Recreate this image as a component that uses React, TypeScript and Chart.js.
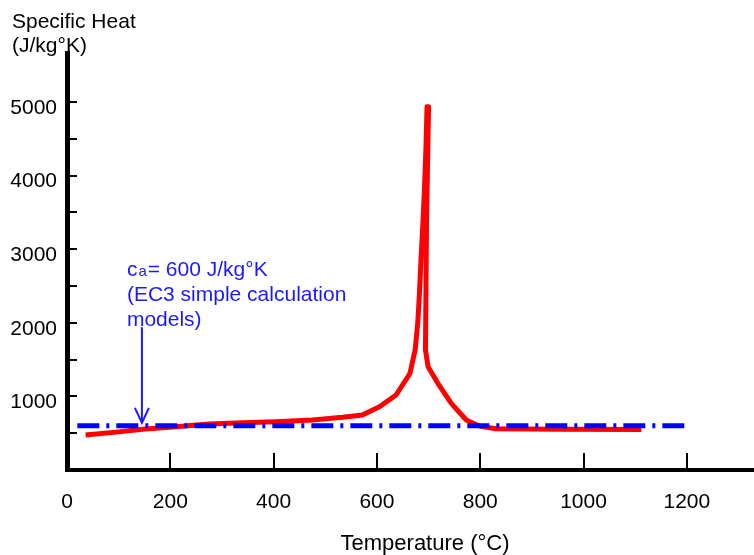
import React, { useEffect, useRef } from "react";
import { Chart, registerables } from "chart.js";

Chart.register(...registerables);

const temperatureC = [
  36, 100, 146, 211, 275, 340, 404, 475, 534, 572, 605, 637, 656, 664, 674, 679, 682, 685, 689, 692, 695, 697,
  700, 696, 694, 699, 718, 744, 773, 798, 830, 950, 1112,
];
const specificHeat = [
  476, 518, 553, 588, 625, 643, 656, 679, 716, 747, 860, 1019, 1223, 1314, 1630, 1993, 2355, 2808, 3352, 3804,
  4393, 4936, 4936, 3352, 1630, 1404, 1178, 906, 679, 598, 560, 555, 550,
];

// EC3 simple calculation constant
const ec3Temperature = [20, 1200];
const ec3Value = [600, 600];

const xTickLabels = [0, 200, 400, 600, 800, 1000, 1200];
const xTickMarks = [200, 400, 600, 800, 1000, 1200];
const yTickLabels = [1000, 2000, 3000, 4000, 5000];
const yTickMarks = [500, 1000, 1500, 2000, 2500, 3000, 3500, 4000, 4500, 5000];

const yAxisTitle = ["Specific Heat", "(J/kg°K)"];
const xAxisTitle = "Temperature (°C)";
const noteLines = ["= 600 J/kg°K", "(EC3 simple calculation", "models)"];
const noteAnchor = { x: 116, y: 2730 };
const arrowFrom = { x: 145, y: 1940 };
const arrowTo = { x: 145, y: 640 };

const FONT = "'Liberation Sans', Arial, Helvetica, sans-serif";

export default function App() {
  const ref = useRef<HTMLCanvasElement | null>(null);

  useEffect(() => {
    if (!ref.current) return;

    const decor = {
      id: "decor",
      afterDraw(chart: any) {
        const ctx = chart.ctx;
        const xs = chart.scales.x;
        const ys = chart.scales.y;
        const area = chart.chartArea;
        ctx.save();
        // inner tick marks
        ctx.strokeStyle = "#000";
        ctx.lineWidth = 2;
        ctx.lineCap = "butt";
        yTickMarks.forEach((v) => {
          const y = Math.round(ys.getPixelForValue(v));
          ctx.beginPath();
          ctx.moveTo(area.left, y);
          ctx.lineTo(area.left + 10, y);
          ctx.stroke();
        });
        xTickMarks.forEach((v) => {
          const x = Math.round(xs.getPixelForValue(v));
          ctx.beginPath();
          ctx.moveTo(x, area.bottom);
          ctx.lineTo(x, area.bottom - 17);
          ctx.stroke();
        });

        // arrow
        const ax = xs.getPixelForValue(arrowFrom.x);
        const ay1 = ys.getPixelForValue(arrowFrom.y);
        const ay2 = ys.getPixelForValue(arrowTo.y);
        ctx.strokeStyle = "#1a1aff";
        ctx.lineWidth = 2;
        ctx.beginPath();
        ctx.moveTo(ax, ay1);
        ctx.lineTo(ax, ay2);
        ctx.stroke();
        ctx.beginPath();
        ctx.moveTo(ax - 7, ay2 - 15);
        ctx.lineTo(ax, ay2);
        ctx.lineTo(ax + 7, ay2 - 15);
        ctx.stroke();

        // annotation text
        ctx.fillStyle = "#1a1aff";
        ctx.textBaseline = "alphabetic";
        ctx.textAlign = "left";
        const tx = xs.getPixelForValue(noteAnchor.x);
        const ty = ys.getPixelForValue(noteAnchor.y) + 7;
        ctx.font = `21px ${FONT}`;
        ctx.fillText("c", tx, ty);
        const cw = ctx.measureText("c").width;
        ctx.font = `15px ${FONT}`;
        ctx.fillText("a", tx + cw + 1, ty);
        const aw = ctx.measureText("a").width;
        ctx.font = `21px ${FONT}`;
        ctx.fillText(noteLines[0], tx + cw + aw + 2, ty);
        ctx.fillText(noteLines[1], tx, ty + 25);
        ctx.fillText(noteLines[2], tx, ty + 50);

        // axis titles
        ctx.fillStyle = "#000";
        ctx.font = `21px ${FONT}`;
        ctx.fillText(yAxisTitle[0], 12, 28);
        ctx.fillText(yAxisTitle[1], 12, 52);
        ctx.textAlign = "center";
        ctx.font = `22px ${FONT}`;
        ctx.fillText(xAxisTitle, 425, 550);
        ctx.restore();
      },
    };

    const chart = new Chart(ref.current, {
      type: "line",
      data: {
        datasets: [
          {
            label: "EC3",
            data: ec3Temperature.map((t, i) => ({ x: t, y: ec3Value[i] })),
            borderColor: "#0000ff",
            borderWidth: 5,
            borderDash: [22, 7, 3, 7],
            pointRadius: 0,
            tension: 0,
            fill: false,
          },
          {
            label: "Specific heat",
            data: temperatureC.map((t, i) => ({ x: t, y: specificHeat[i] })),
            borderColor: "#ff0000",
            borderWidth: 5,
            pointRadius: 0,
            tension: 0,
            fill: false,
            borderJoinStyle: "round",
          },
        ],
      },
      options: {
        responsive: false,
        animation: false,
        layout: { padding: { top: 53, left: 0, right: 0, bottom: 0 } },
        plugins: { legend: { display: false }, tooltip: { enabled: false } },
        scales: {
          x: {
            type: "linear",
            min: 0,
            max: 1330,
            grid: { display: false, drawTicks: false },
            border: { display: true, color: "#000", width: 4 },
            ticks: {
              padding: 20,
              color: "#000",
              font: { family: FONT, size: 21 },
              callback: (v: any) => String(v),
            },
            afterBuildTicks: (s: any) => {
              s.ticks = xTickLabels.map((v) => ({ value: v }));
            },
            afterFit: (s: any) => {
              s.height = 85;
            },
          },
          y: {
            type: "linear",
            min: 0,
            max: 5666,
            grid: { display: false, drawTicks: false },
            border: { display: true, color: "#000", width: 5 },
            ticks: {
              padding: 10,
              labelOffset: 6,
              color: "#000",
              font: { family: FONT, size: 21 },
              callback: (v: any) => String(v),
            },
            afterBuildTicks: (s: any) => {
              s.ticks = yTickLabels.map((v) => ({ value: v }));
            },
            afterFit: (s: any) => {
              s.width = 67;
            },
          },
        },
      },
      plugins: [decor],
    });
    return () => chart.destroy();
  }, []);

  return (
    <div style={{ position: "absolute", left: 0, top: 0, width: 754, height: 555, background: "#fff" }}>
      <canvas ref={ref} width={754} height={555} style={{ width: 754, height: 555, display: "block" }} />
    </div>
  );
}
